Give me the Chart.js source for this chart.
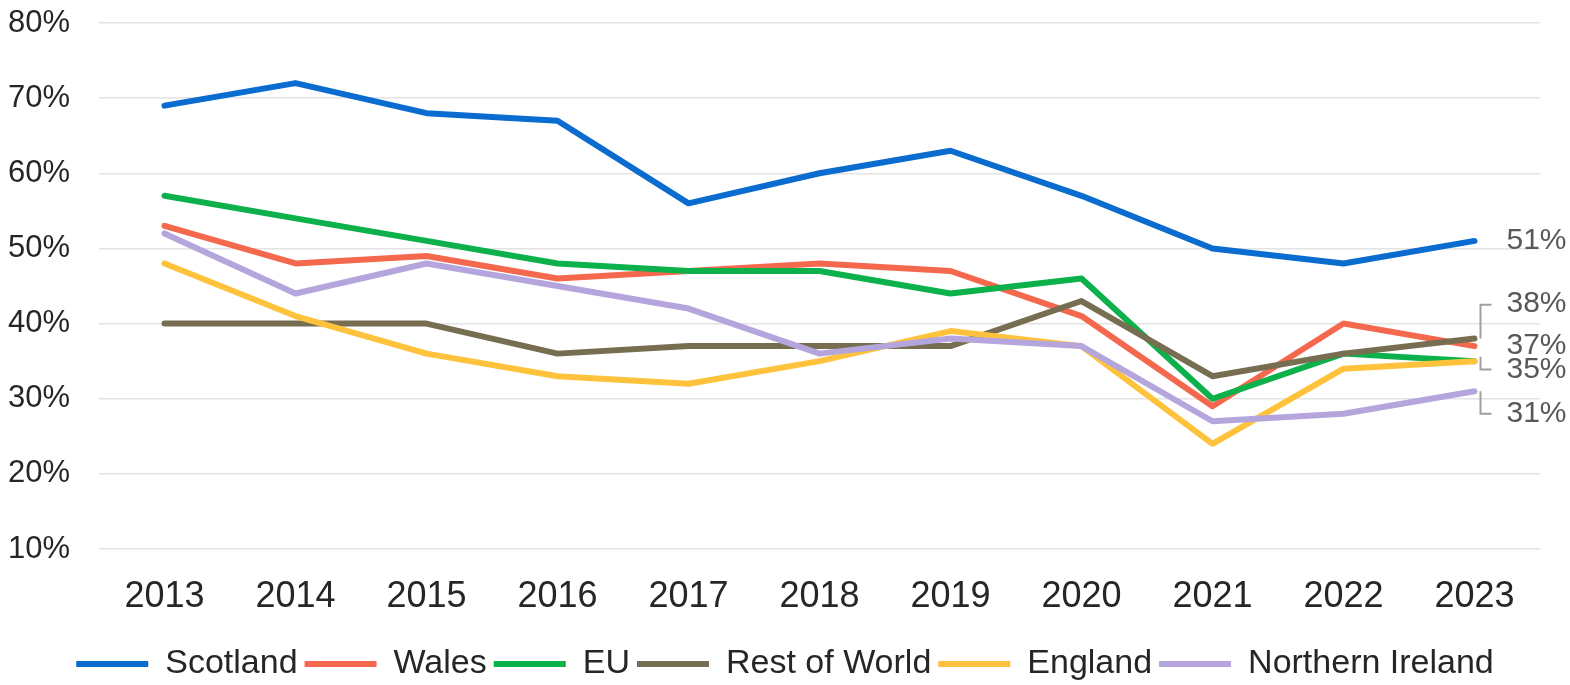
<!DOCTYPE html>
<html>
<head>
<meta charset="utf-8">
<script src="https://cdn.jsdelivr.net/npm/chart.js@4"></script>
<style>
  html, body { margin: 0; padding: 0; background: #fff; }
  #wrap { width: 1570px; height: 685px; position: relative; overflow: hidden; }
</style>
</head>
<body>
<div id="wrap"><canvas id="chart"></canvas></div>
<script>
// ── Data ──────────────────────────────────────────────────
const years    = ['2013', '2014', '2015', '2016', '2017', '2018', '2019', '2020', '2021', '2022', '2023'];
const scotland = [69, 72, 68, 67, 56, 60, 63, 57, 50, 48, 51];
const wales    = [53, 48, 49, 46, 47, 48, 47, 41, 29, 40, 37];
const eu       = [57, 54, 51, 48, 47, 47, 44, 46, 30, 36, 35];
const restOfWorld = [40, 40, 40, 36, 37, 37, 37, 43, 33, 36, 38];
const england  = [48, 41, 36, 33, 32, 35, 39, 37, 24, 34, 35];
const nIreland = [52, 44, 48, 45, 42, 36, 38, 37, 27, 28, 31];

// end-of-line labels: text value and the value level the label sits at
const endLabels    = ['51%', '38%', '37%', '35%', '31%'];
const endLabelAt   = [51, 42.6, 37, 33.9, 28];
// leader brackets: [from value (line end), to value (label level)]
const leaders = [[38, 42.5], [35.6, 33.9], [31, 28]];

const FONT = "'Liberation Sans', Arial, sans-serif";

const series = [
  { label: 'Scotland',         data: scotland,    color: '#0a6cce' },
  { label: 'Wales',            data: wales,       color: '#f4694e' },
  { label: 'EU',               data: eu,          color: '#0cb14b' },
  { label: 'Rest of World',    data: restOfWorld, color: '#776d50' },
  { label: 'England',          data: england,     color: '#fec23c' },
  { label: 'Northern Ireland', data: nIreland,    color: '#b4a6dc' }
];

// ── End labels plugin ─────────────────────────────────────
const endLabelPlugin = {
  id: 'endLabels',
  afterDatasetsDraw(chart) {
    const { ctx, scales: { x, y } } = chart;
    const xEnd = x.getPixelForValue(years.length - 1);
    ctx.save();
    ctx.strokeStyle = '#a0a0a0';
    ctx.lineWidth = 2;
    leaders.forEach(([from, to]) => {
      const y1 = y.getPixelForValue(from);
      const y2 = y.getPixelForValue(to);
      ctx.beginPath();
      ctx.moveTo(xEnd + 6, y1);
      ctx.lineTo(xEnd + 6, y2);
      ctx.lineTo(xEnd + 17, y2);
      ctx.stroke();
    });
    ctx.fillStyle = '#595959';
    ctx.font = '30px ' + FONT;
    ctx.textAlign = 'left';
    ctx.textBaseline = 'middle';
    endLabels.forEach((t, i) => {
      ctx.fillText(t, xEnd + 32, y.getPixelForValue(endLabelAt[i]));
    });
    ctx.restore();
  }
};

// ── Chart ─────────────────────────────────────────────────
new Chart(document.getElementById('chart'), {
  type: 'line',
  data: {
    labels: years,
    datasets: series.map((s, i) => ({
      label: s.label,
      data: s.data,
      borderColor: s.color,
      backgroundColor: s.color,
      borderWidth: 6,
      pointRadius: 0,
      tension: 0,
      borderCapStyle: 'round',
      borderJoinStyle: 'round',
      order: series.length - i
    }))
  },
  plugins: [endLabelPlugin],
  options: {
    responsive: true,
    maintainAspectRatio: false,
    animation: false,
    layout: { padding: { top: 23, right: 0, left: 0, bottom: -6 } },
    plugins: {
      tooltip: { enabled: false },
      legend: {
        position: 'bottom',
        labels: {
          font: { family: FONT, size: 34, lineHeight: 1 },
          color: '#262626',
          boxWidth: 72,
          boxHeight: 6,
          padding: 7,
          sort: (a, b) => a.datasetIndex - b.datasetIndex,
          generateLabels: chart =>
            Chart.defaults.plugins.legend.labels.generateLabels(chart).map(l => ({
              ...l, lineWidth: 0, fillStyle: l.strokeStyle
            }))
        }
      }
    },
    scales: {
      x: {
        offset: true,
        grid: { display: false, drawTicks: false },
        border: { display: false },
        ticks: { font: { family: FONT, size: 36 }, color: '#262626', padding: 26, maxRotation: 0 },
        afterFit: s => { s.height = 91; }
      },
      y: {
        min: 10,
        max: 80,
        grid: { color: '#e3e3e3', lineWidth: 1.5, drawTicks: false },
        border: { display: false },
        ticks: {
          stepSize: 10,
          font: { family: FONT, size: 31 },
          color: '#262626',
          padding: 29,
          callback: v => v + '%'
        },
        afterFit: s => {
          s.width = 99;
          // tick padding otherwise pushes the plot top down
          s.paddingTop = 18;
          s.paddingBottom = 18;
        }
      },
      // empty right margin so the end labels have room
      yRight: {
        position: 'right',
        grid: { display: false, drawTicks: false },
        border: { display: false },
        ticks: { display: false },
        afterFit: s => { s.width = 30; }
      }
    }
  }
});
</script>
</body>
</html>
